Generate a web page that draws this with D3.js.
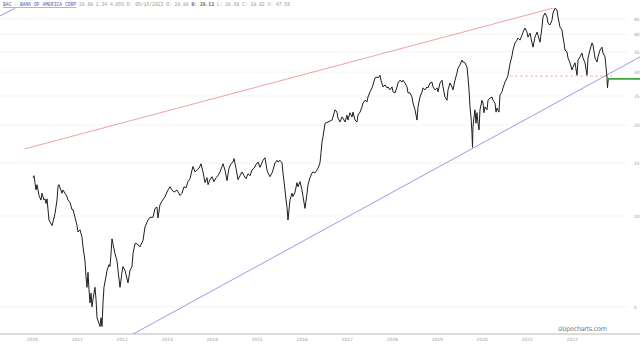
<!DOCTYPE html>
<html>
<head>
<meta charset="utf-8">
<script src="https://cdn.jsdelivr.net/npm/d3@7"></script>
<style>
  body { margin: 0; background: #fff; }
  svg { display: block; }
</style>
</head>
<body>
<script>
// BAC daily closes (decimal year, price)
const years = [
  2010.467, 2010.489, 2010.511, 2010.533, 2010.556, 2010.600, 2010.644, 2010.667, 2010.711, 2010.733,
  2010.756, 2010.778, 2010.822, 2010.889, 2010.911, 2010.956, 2011.000, 2011.022, 2011.044, 2011.111,
  2011.133, 2011.178, 2011.222, 2011.244, 2011.289, 2011.333, 2011.356, 2011.400, 2011.444, 2011.467,
  2011.511, 2011.556, 2011.578, 2011.622, 2011.644, 2011.667, 2011.689, 2011.711, 2011.733, 2011.756,
  2011.778, 2011.800, 2011.844, 2011.867, 2011.889, 2011.933, 2011.956, 2011.978, 2012.000, 2012.022,
  2012.044, 2012.089, 2012.111, 2012.156, 2012.178, 2012.200, 2012.222, 2012.244, 2012.289, 2012.333,
  2012.356, 2012.400, 2012.444, 2012.467, 2012.511, 2012.578, 2012.622, 2012.667, 2012.689, 2012.733,
  2012.778, 2012.844, 2012.911, 2012.956, 2013.022, 2013.067, 2013.133, 2013.178, 2013.222, 2013.244,
  2013.289, 2013.333, 2013.400, 2013.467, 2013.511, 2013.556, 2013.600, 2013.667, 2013.733, 2013.778,
  2013.822, 2013.867, 2013.911, 2013.956, 2014.000, 2014.022, 2014.067, 2014.111, 2014.156, 2014.200,
  2014.244, 2014.289, 2014.333, 2014.356, 2014.400, 2014.444, 2014.489, 2014.533, 2014.578, 2014.622,
  2014.667, 2014.689, 2014.733, 2014.778, 2014.822, 2014.867, 2014.911, 2014.933, 2014.978, 2015.022,
  2015.067, 2015.111, 2015.156, 2015.200, 2015.244, 2015.289, 2015.333, 2015.378, 2015.422, 2015.467,
  2015.511, 2015.578, 2015.622, 2015.667, 2015.689, 2015.733, 2015.778, 2015.800, 2015.844, 2015.889,
  2015.911, 2015.956, 2016.000, 2016.022, 2016.067, 2016.089, 2016.111, 2016.133, 2016.178, 2016.222,
  2016.244, 2016.289, 2016.333, 2016.356, 2016.400, 2016.444, 2016.467, 2016.511, 2016.556, 2016.578,
  2016.622, 2016.667, 2016.689, 2016.733, 2016.778, 2016.800, 2016.844, 2016.867, 2016.889, 2016.911,
  2016.956, 2017.022, 2017.111, 2017.133, 2017.178, 2017.222, 2017.244, 2017.289, 2017.333, 2017.356,
  2017.400, 2017.444, 2017.467, 2017.511, 2017.556, 2017.578, 2017.622, 2017.667, 2017.689, 2017.733,
  2017.778, 2017.800, 2017.844, 2017.889, 2017.911, 2017.956, 2018.000, 2018.022, 2018.067, 2018.111,
  2018.133, 2018.178, 2018.200, 2018.244, 2018.289, 2018.333, 2018.356, 2018.400, 2018.444, 2018.467,
  2018.511, 2018.556, 2018.578, 2018.622, 2018.667, 2018.689, 2018.733, 2018.778, 2018.800, 2018.844,
  2018.889, 2018.911, 2018.956, 2019.000, 2019.022, 2019.067, 2019.111, 2019.133, 2019.178, 2019.222,
  2019.244, 2019.289, 2019.333, 2019.356, 2019.400, 2019.444, 2019.467, 2019.511, 2019.556, 2019.578,
  2019.622, 2019.667, 2019.689, 2019.733, 2019.778, 2019.800, 2019.844, 2019.889, 2019.911, 2019.956,
  2020.000, 2020.022, 2020.067, 2020.111, 2020.133, 2020.156, 2020.178, 2020.200, 2020.222, 2020.233,
  2020.244, 2020.267, 2020.289, 2020.311, 2020.333, 2020.356, 2020.378, 2020.400, 2020.444, 2020.467,
  2020.489, 2020.511, 2020.556, 2020.578, 2020.622, 2020.667, 2020.689, 2020.733, 2020.756, 2020.778,
  2020.822, 2020.844, 2020.889, 2020.911, 2020.956, 2021.000, 2021.022, 2021.067, 2021.111, 2021.133,
  2021.178, 2021.222, 2021.244, 2021.289, 2021.333, 2021.356, 2021.400, 2021.444, 2021.467, 2021.511,
  2021.556, 2021.578, 2021.622, 2021.667, 2021.689, 2021.733, 2021.778, 2021.800, 2021.844, 2021.889,
  2021.911, 2021.956, 2022.000, 2022.022, 2022.067, 2022.111, 2022.133, 2022.178, 2022.222, 2022.244,
  2022.267, 2022.289, 2022.333, 2022.356, 2022.400, 2022.444, 2022.467, 2022.511, 2022.556, 2022.578,
  2022.622, 2022.667, 2022.689, 2022.733, 2022.778, 2022.800, 2022.844, 2022.889, 2022.911, 2022.956,
  2023.000, 2023.022, 2023.067, 2023.111, 2023.133, 2023.178, 2023.200, 2023.222, 2023.233, 2023.244,
  2023.256
];
const closes = [
  13.4, 13.6, 12.9, 12.2, 12.7, 11.7, 11.3, 11.9, 11.3, 11.4,
  11.0, 11.4, 9.7, 9.3, 9.55, 10.2, 11.3, 12.5, 12.7, 11.9,
  12.2, 11.9, 11.6, 11.3, 11.1, 10.5, 10.5, 9.9, 9.3, 8.85,
  9.0, 8.5, 7.9, 7.1, 6.3, 5.8, 6.5, 5.7, 5.15, 5.55,
  5.0, 5.3, 5.8, 5.3, 4.6, 4.4, 4.3, 4.6, 4.3, 5.15,
  5.8, 6.3, 6.6, 6.9, 6.8, 7.5, 8.4, 8.1, 7.5, 7.1,
  6.6, 5.8, 6.5, 6.8, 6.6, 6.0, 6.6, 6.8, 7.5, 8.1,
  8.1, 7.9, 8.3, 9.2, 9.7, 9.9, 9.9, 10.6, 10.7, 9.85,
  10.9, 11.2, 11.6, 12.2, 12.5, 12.2, 12.0, 12.2, 11.7, 11.9,
  12.5, 12.4, 13.0, 13.3, 14.2, 14.6, 14.0, 14.2, 14.4, 14.9,
  14.0, 12.9, 13.4, 12.7, 13.2, 13.5, 13.0, 13.4, 13.6, 14.0,
  14.6, 14.9, 14.2, 13.1, 14.4, 14.9, 15.1, 15.5, 14.4, 13.2,
  13.6, 14.0, 13.6, 13.3, 13.8, 13.6, 14.2, 14.4, 14.8, 15.1,
  14.5, 15.3, 15.6, 14.2, 13.9, 13.5, 13.9, 14.2, 15.0, 15.3,
  15.1, 15.3, 15.0, 13.9, 12.2, 11.3, 10.7, 9.7, 11.3, 11.9,
  11.6, 12.0, 12.9, 12.5, 13.0, 12.2, 11.6, 10.6, 11.9, 12.7,
  13.4, 13.9, 14.0, 13.9, 14.2, 14.4, 15.0, 16.2, 17.6, 18.3,
  20.3, 20.5, 20.8, 21.3, 22.5, 22.1, 21.1, 20.5, 21.3, 21.1,
  20.5, 21.6, 20.8, 22.0, 21.3, 22.1, 20.8, 20.5, 21.6, 22.1,
  23.0, 23.7, 24.2, 23.9, 24.8, 25.8, 26.6, 27.2, 28.7, 28.9,
  28.7, 29.3, 28.2, 26.8, 27.2, 26.6, 26.8, 26.2, 26.8, 25.8,
  25.6, 26.8, 27.6, 28.2, 27.8, 28.2, 27.6, 26.8, 25.6, 25.6,
  24.8, 23.7, 22.5, 20.8, 23.0, 24.8, 25.8, 26.6, 26.2, 26.8,
  26.6, 27.6, 27.8, 26.8, 26.2, 26.6, 25.8, 27.6, 28.2, 26.8,
  24.8, 24.2, 26.2, 27.6, 26.8, 26.2, 28.2, 29.8, 30.9, 31.7,
  32.9, 32.4, 32.2, 31.2, 28.9, 26.2, 23.0, 21.3, 18.8, 16.9,
  19.7, 21.3, 22.5, 20.3, 22.0, 20.3, 19.3, 22.5, 24.2, 23.7,
  22.0, 23.0, 22.5, 24.2, 24.6, 24.8, 24.2, 23.7, 22.1, 22.8,
  22.1, 25.2, 25.8, 26.6, 27.8, 28.7, 29.3, 31.9, 34.0, 35.5,
  37.5, 38.3, 38.9, 38.3, 39.8, 40.7, 42.0, 40.7, 39.2, 40.4,
  37.5, 36.3, 39.2, 40.7, 39.8, 37.7, 42.3, 45.7, 47.1, 45.7,
  43.6, 43.0, 44.6, 47.1, 48.9, 48.2, 45.7, 42.3, 41.4, 39.2,
  37.5, 35.5, 35.0, 33.4, 32.2, 30.5, 31.2, 32.2, 29.3, 32.9,
  33.7, 34.7, 33.4, 32.2, 29.3, 33.4, 35.5, 37.5, 36.9, 33.4,
  32.4, 33.7, 35.5, 36.3, 34.7, 33.7, 31.2, 28.9, 26.6, 27.8,
  28.7
];

const yearTicks = [2010, 2011, 2012, 2013, 2014, 2015, 2016, 2017, 2018, 2019, 2020, 2021, 2022];
const priceTicks = [5, 10, 15, 20, 25, 30, 35, 40, 45];

// drawn lines: [startYear, startPrice, endYear, endPrice]
const upperTrend = [2010.289, 16.7, 2022.022, 48.9];
const lowerTrend = [2012.689, 4.06, 2023.956, 33.7];
const cornerTrend = [2009.733, 46.1, 2010.067, 48.8];
const supportLevel = [2021.067, 29.1, 2023.333, 29.1];
const lastLevel = [2023.222, 28.5, 2023.956, 28.5];

const headerSymbol = 'BAC - BANK OF AMERICA CORP';
const headerQuote = '28.98 1.34 4.85% D: 05/16/2023 O: 28.80 ';
const headerHigh = 'H: 29.13';
const headerRest = ' L: 28.69 C: 28.92 V: 47.56';

const width = 640, height = 345;

const x = d3.scaleLinear().domain([2010, 2024]).range([12, 642]);
const y = d3.scaleLog().domain([5, 45]).range([306.8, 19]);

const svg = d3.select('body').append('svg')
  .attr('width', width)
  .attr('height', height)
  .style('font-family', 'DejaVu Sans, sans-serif');

svg.append('defs').append('clipPath').attr('id', 'plot')
  .append('rect').attr('x', 0).attr('y', 0).attr('width', width).attr('height', 334);

// faint grid
svg.append('g')
  .selectAll('line')
  .data(priceTicks)
  .enter()
  .append('line')
  .attr('x1', 0).attr('x2', 628)
  .attr('y1', (d) => y(d)).attr('y2', (d) => y(d))
  .attr('stroke', '#f5f5f5');

// right axis
const yAxis = d3.axisRight(y).tickValues(priceTicks).tickSize(0).tickFormat(d3.format('d'));
svg.append('g')
  .attr('transform', 'translate(632,0)')
  .call(yAxis)
  .call((g) => g.select('.domain').remove())
  .call((g) => g.selectAll('text')
    .attr('font-size', 4.5).attr('fill', '#999').attr('x', 2)
    .attr('font-family', 'DejaVu Sans, sans-serif'));

// bottom axis
svg.append('line')
  .attr('x1', 0).attr('x2', width)
  .attr('y1', 334).attr('y2', 334)
  .attr('stroke', '#b8b8b8');

svg.append('g')
  .selectAll('text')
  .data(yearTicks)
  .enter()
  .append('text')
  .attr('x', (d) => x(d + 0.45))
  .attr('y', 341)
  .attr('text-anchor', 'middle')
  .attr('font-size', 4.5)
  .attr('fill', '#999')
  .text((d) => d);

const plot = svg.append('g').attr('clip-path', 'url(#plot)');

function segment(t, color, w, dash) {
  plot.append('line')
    .attr('x1', x(t[0])).attr('y1', y(t[1]))
    .attr('x2', x(t[2])).attr('y2', y(t[3]))
    .attr('stroke', color)
    .attr('stroke-width', w)
    .attr('stroke-dasharray', dash || null);
}

segment(upperTrend, '#ee8a8a', 0.8);
segment(lowerTrend, '#8080e0', 0.8);
segment(cornerTrend, '#8080e0', 0.8);
segment(supportLevel, '#f0a0a0', 0.8, '3,2');

const series = years.map((t, i) => [t, closes[i]]);
plot.append('path')
  .datum(series)
  .attr('fill', 'none')
  .attr('stroke', '#1e1e1e')
  .attr('stroke-width', 1)
  .attr('stroke-linejoin', 'miter')
  .attr('d', d3.line().x((d) => x(d[0])).y((d) => y(d[1])));

segment(lastLevel, '#3aa53a', 1.6);

// header
const header = svg.append('text')
  .attr('x', 3)
  .attr('y', 6)
  .attr('font-family', 'Liberation Mono, DejaVu Sans Mono, monospace')
  .attr('font-size', 4.7)
  .attr('fill', '#999');
header.append('tspan')
  .attr('fill', '#5a5ab0')
  .attr('text-decoration', 'underline')
  .text(headerSymbol);
header.append('tspan').text(' ' + headerQuote);
header.append('tspan').attr('font-weight', 'bold').attr('fill', '#666').text(headerHigh);
header.append('tspan').text(headerRest);

// watermark
svg.append('text')
  .attr('x', 558)
  .attr('y', 331)
  .attr('font-size', 6.5)
  .attr('textLength', 49)
  .attr('fill', '#808080')
  .text('slopecharts.com');
</script>
</body>
</html>
